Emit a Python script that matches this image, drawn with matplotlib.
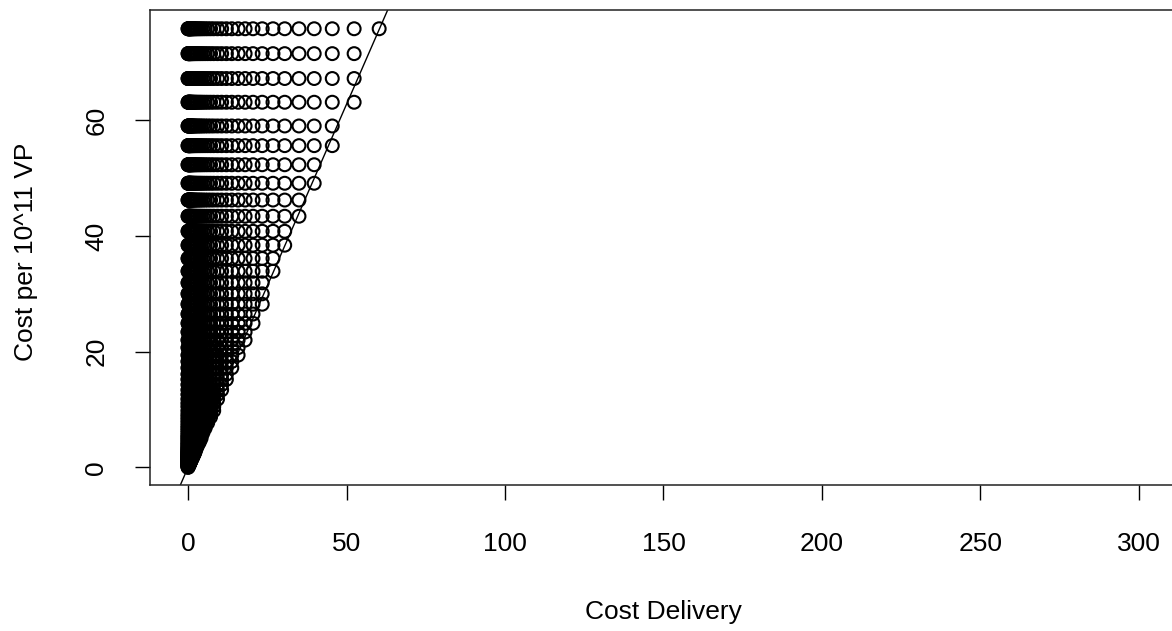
import numpy as np
import matplotlib
matplotlib.use("Agg")
import matplotlib.pyplot as plt

plt.rcParams['font.family'] = ['Liberation Sans', 'DejaVu Sans']

# Cost per 10^11 VP levels (rows)
cost_vp_levels = [
    75.8, 71.5, 67.2, 63.1, 59.0, 55.6, 52.3, 49.1, 46.2, 43.4,
    40.8, 38.4, 36.1, 33.9, 31.9, 30.0, 28.2, 26.5, 24.9, 23.4,
    22.0, 20.7, 19.4, 18.3, 17.2, 16.1, 15.2, 14.3, 13.4, 12.6,
    11.8, 11.1, 10.5, 9.8, 9.2, 8.7, 8.2, 7.7, 7.2, 6.8,
    6.4, 6.0, 5.6, 5.3, 5.0, 4.7, 4.4, 4.1, 3.9, 3.6,
    3.4, 3.2, 3.0, 2.8, 2.7, 2.5, 2.4, 2.2, 2.1, 2.0,
    1.8, 1.7, 1.6, 1.5, 1.4, 1.3, 1.2, 1.1, 1.0, 0.9,
    0.8, 0.7, 0.6, 0.5, 0.4, 0.3, 0.2, 0.1, 0.0,
]

# Cost Delivery levels (columns)
cost_delivery_levels = [
    60.3, 52.4, 45.5, 39.8, 35.0, 30.5, 26.8, 23.4, 20.5, 18.0,
    15.8, 13.8, 12.1, 10.6, 9.3, 8.1, 7.1, 6.2, 5.4, 4.7,
    4.1, 3.6, 3.1, 2.7, 2.3, 2.0, 1.7, 1.5, 1.3, 1.1,
    0.95, 0.8, 0.7, 0.6, 0.5, 0.4, 0.3, 0.2, 0.1, 0.05, 0.0,
]

# only combinations left of this ratio appear in the chart
max_delivery_share = 0.835

# fitted line
line_intercept = 0.0
line_slope = 1.255

x_ticks = [0, 50, 100, 150, 200, 250, 300]
y_ticks = [0, 20, 40, 60]

xs, ys = [], []
for y in cost_vp_levels:
    for x in cost_delivery_levels:
        if x <= max_delivery_share * y:
            xs.append(x)
            ys.append(y)

fig = plt.figure(figsize=(11.72, 6.31), dpi=100)
ax = fig.add_axes([150 / 1172, 146 / 631, 1027 / 1172, 475 / 631])

ax.scatter(xs, ys, s=86, facecolors='none', edgecolors='black', linewidths=1.5)
ax.axline((0, line_intercept), slope=line_slope, color='black', linewidth=1.0)

ax.set_xlim(-12, 312)
ax.set_ylim(-3.04, 79.04)
ax.set_xticks(x_ticks)
ax.set_yticks(y_ticks)

for sp in ax.spines.values():
    sp.set_linewidth(1.1)
    sp.set_color('#222222')

ax.tick_params(axis='both', direction='out', length=11, width=1.0,
               labelsize=19, colors='black')
ax.tick_params(axis='x', pad=23)
ax.tick_params(axis='y', pad=19)
for lbl in ax.get_yticklabels():
    lbl.set_rotation(90)
    lbl.set_va('center')

ax.set_xlabel("Cost Delivery", fontsize=19)
ax.set_ylabel("Cost per 10^11 VP", fontsize=19)
ax.xaxis.set_label_coords(0.5, -0.267)
ax.yaxis.set_label_coords(-0.121, 0.49)
ax.xaxis.label.set_va('center')
ax.yaxis.label.set_va('center')

fig.savefig("out.png", dpi=100)
